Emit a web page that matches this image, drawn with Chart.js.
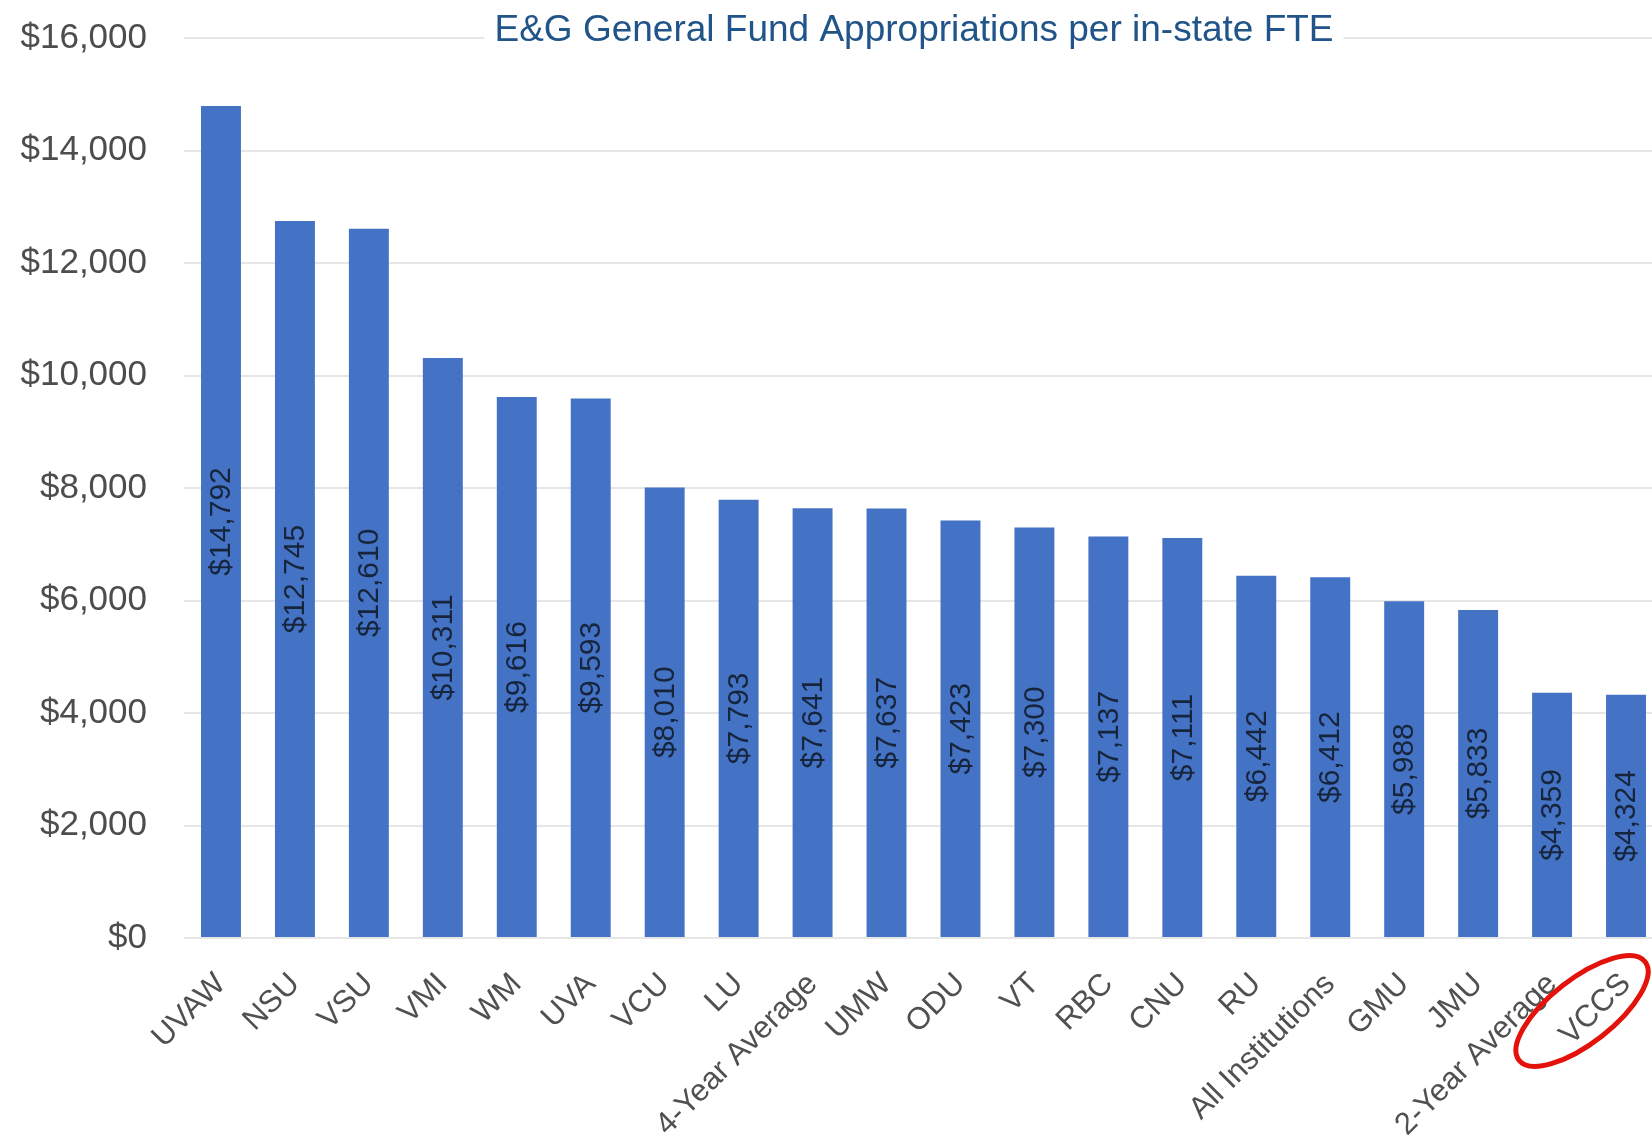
<!DOCTYPE html>
<html>
<head>
<meta charset="utf-8">
<script src="https://cdn.jsdelivr.net/npm/chart.js@4.4.1/dist/chart.umd.min.js"></script>
<style>
  html, body { margin: 0; padding: 0; background: #fff; overflow: hidden; }
  #wrap { width: 1670px; height: 1137px; position: relative; }
</style>
</head>
<body>
<div id="wrap"><canvas id="chartFunding"></canvas></div>
<script>
var institutions = ['UVAW', 'NSU', 'VSU', 'VMI', 'WM', 'UVA', 'VCU', 'LU', '4-Year Average', 'UMW',
  'ODU', 'VT', 'RBC', 'CNU', 'RU', 'All Institutions', 'GMU', 'JMU', '2-Year Average', 'VCCS'];
var perFte = [14792, 12745, 12610, 10311, 9616, 9593, 8010, 7793, 7641, 7637,
  7423, 7300, 7137, 7111, 6442, 6412, 5988, 5833, 4359, 4324];
var yTicks = [0, 2000, 4000, 6000, 8000, 10000, 12000, 14000, 16000];
var chartTitle = 'E&G General Fund Appropriations per in-state FTE';
var circled = 'VCCS';

function money(v) {
  return '$' + Number(v).toLocaleString('en-US');
}

// value labels, turned upright, in the middle of each bar
var barLabels = {
  id: 'barLabels',
  afterDatasetsDraw: function(chart) {
    var ctx = chart.ctx;
    var meta = chart.getDatasetMeta(0);
    ctx.save();
    ctx.font = '30px "Liberation Sans"';
    ctx.fillStyle = '#16253c';
    ctx.textAlign = 'center';
    ctx.textBaseline = 'middle';
    meta.data.forEach(function(bar, i) {
      var mid = (bar.y + bar.base) / 2;
      ctx.save();
      ctx.translate(bar.x + 1, mid);
      ctx.rotate(-Math.PI / 2);
      ctx.fillText(money(perFte[i]), 0, 0);
      ctx.restore();
    });
    ctx.restore();
  }
};

// title sits on top of the top gridline, plus the red ring around VCCS
var extras = {
  id: 'extras',
  afterDraw: function(chart) {
    var ctx = chart.ctx;
    ctx.save();
    ctx.font = '37px "Liberation Sans"';
    var w = ctx.measureText(chartTitle).width;
    var cx = 914, cy = 31;
    ctx.fillStyle = '#fff';
    ctx.fillRect(cx - w / 2 - 10, 8, w + 20, 44);
    ctx.fillStyle = '#215488';
    ctx.textAlign = 'center';
    ctx.textBaseline = 'middle';
    ctx.fillText(chartTitle, cx, cy);

    var x = chart.scales.x.getPixelForValue(institutions.indexOf(circled));
    ctx.strokeStyle = '#e3120b';
    ctx.lineWidth = 5;
    ctx.beginPath();
    ctx.ellipse(x - 44, chart.chartArea.bottom + 73, 80, 32, -38 * Math.PI / 180, 0, Math.PI * 2);
    ctx.stroke();
    ctx.restore();
  }
};

var ctx = document.getElementById('chartFunding').getContext('2d');
var chartFunding = new Chart(ctx, {
  type: 'bar',
  data: {
    labels: institutions,
    datasets: [{
      label: 'Appropriations per in-state FTE',
      data: perFte,
      backgroundColor: '#4472c4',
      borderWidth: 0,
      barPercentage: 0.54,
      categoryPercentage: 1.0
    }]
  },
  options: {
    responsive: true,
    maintainAspectRatio: false,
    animation: false,
    layout: { padding: { top: 38, right: 7, left: 0, bottom: 0 } },
    plugins: {
      legend: { display: false },
      title: { display: false },
      tooltip: { enabled: false }
    },
    scales: {
      x: {
        grid: { display: false, drawTicks: false },
        border: { display: false },
        ticks: {
          color: '#505050',
          font: { family: 'Liberation Sans', size: 31 },
          maxRotation: 45,
          minRotation: 45,
          autoSkip: false,
          padding: 28
        },
        afterFit: function(scale) {
          scale.height = 199;
          scale.paddingLeft = 0;
          scale.paddingRight = 0;
        }
      },
      y: {
        min: 0,
        max: 16000,
        afterBuildTicks: function(scale) {
          scale.ticks = yTicks.map(function(v) { return { value: v }; });
        },
        grid: { color: '#e6e6e6', lineWidth: 2, drawTicks: false },
        border: { display: false },
        ticks: {
          color: '#4d4d4d',
          font: { family: 'Liberation Sans', size: 35 },
          padding: 37,
          callback: function(v) { return money(v); }
        },
        afterFit: function(scale) {
          scale.width = 184;
          scale.paddingTop = 0;
          scale.paddingBottom = 0;
        }
      }
    }
  },
  plugins: [barLabels, extras]
});
</script>
</body>
</html>
